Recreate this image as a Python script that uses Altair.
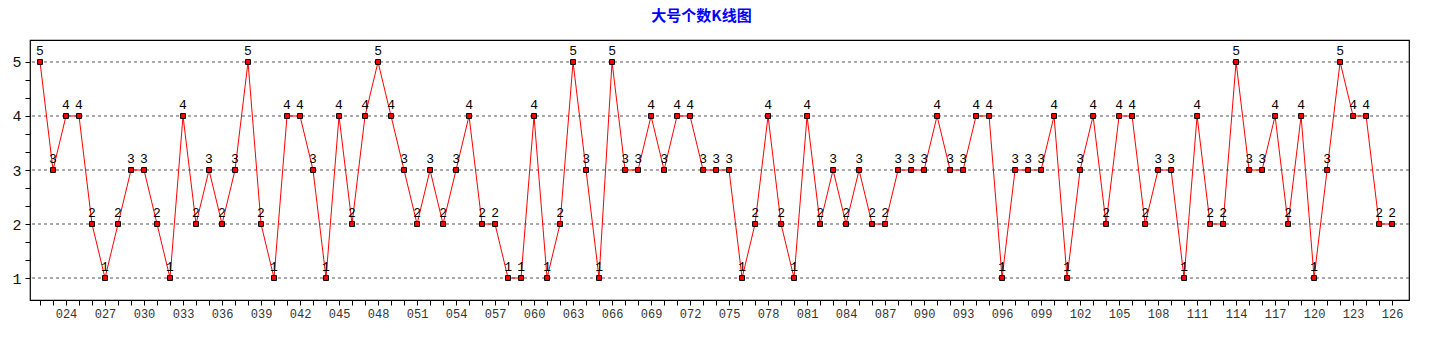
import altair as alt
import pandas as pd

issues = list(range(22, 127))
counts = [
    5, 3, 4, 4, 2, 1, 2, 3, 3, 2,   # 022-031
    1, 4, 2, 3, 2, 3, 5, 2, 1, 4,   # 032-041
    4, 3, 1, 4, 2, 4, 5, 4, 3, 2,   # 042-051
    3, 2, 3, 4, 2, 2, 1, 1, 4, 1,   # 052-061
    2, 5, 3, 1, 5, 3, 3, 4, 3, 4,   # 062-071
    4, 3, 3, 3, 1, 2, 4, 2, 1, 4,   # 072-081
    2, 3, 2, 3, 2, 2, 3, 3, 3, 4,   # 082-091
    3, 3, 4, 4, 1, 3, 3, 3, 4, 1,   # 092-101
    3, 4, 2, 4, 4, 2, 3, 3, 1, 4,   # 102-111
    2, 2, 5, 3, 3, 4, 2, 4, 1, 3,   # 112-121
    5, 4, 4, 2, 2,                  # 122-126
]
grid_values = [1, 2, 3, 4, 5]
y_tick_values = [1 + k / 3 for k in range(13)]

df = pd.DataFrame({"issue": issues, "count": counts})
grid_df = pd.DataFrame({"count": grid_values})

FONT = "Liberation Mono"

x_enc = alt.X(
    "issue:Q",
    scale=alt.Scale(domain=[21.23, 127.3], nice=False, zero=False),
    axis=alt.Axis(
        values=issues,
        labelExpr="datum.value % 3 == 0 ? format(datum.value, '03d') : ''",
        title=None, grid=False, tickSize=5, tickColor="black",
        domain=False, labelOverlap=False, labelFont=FONT, labelFontSize=12,
        labelColor="#333", labelPadding=3,
    ),
)
y_enc = alt.Y(
    "count:Q",
    scale=alt.Scale(domain=[0.593, 5.407], nice=False, zero=False),
    axis=alt.Axis(
        values=y_tick_values,
        labelExpr="abs(datum.value - round(datum.value)) < 0.01 ? format(datum.value, 'd') : ''",
        title=None, grid=False, tickSize=5, tickColor="black",
        domain=False, labelOverlap=False, labelFont=FONT, labelFontSize=15,
        labelColor="#111", labelPadding=4,
    ),
)

grid = alt.Chart(grid_df).mark_rule(color="#555555", strokeDash=[3, 3], strokeWidth=1).encode(
    y=y_enc
)
line = alt.Chart(df).mark_line(color="red", strokeWidth=1).encode(x=x_enc, y=y_enc)
pts = alt.Chart(df).mark_point(
    shape="square", filled=True, fill="red", stroke="black", strokeWidth=1, size=24, opacity=1
).encode(x=x_enc, y=y_enc)
txt = alt.Chart(df).mark_text(
    font=FONT, fontSize=13, baseline="bottom", dy=-4, color="black"
).encode(x=x_enc, y=y_enc, text="count:Q")

chart = alt.layer(grid, line, pts, txt).properties(
    width=1379,
    height=260,
    background="white",
    title=alt.TitleParams(
        "大号个数K线图", color="#0000FF", font="Noto Sans CJK SC", fontSize=15,
        fontWeight="bold", anchor="middle", dx=-18, offset=16,
    ),
    autosize=alt.AutoSizeParams(type="none"),
    padding={"left": 30, "top": 40, "right": 31, "bottom": 50},
).configure_view(stroke="black", strokeWidth=1.2)

chart.save("out.html", embed_options={"renderer": "svg", "actions": False})
